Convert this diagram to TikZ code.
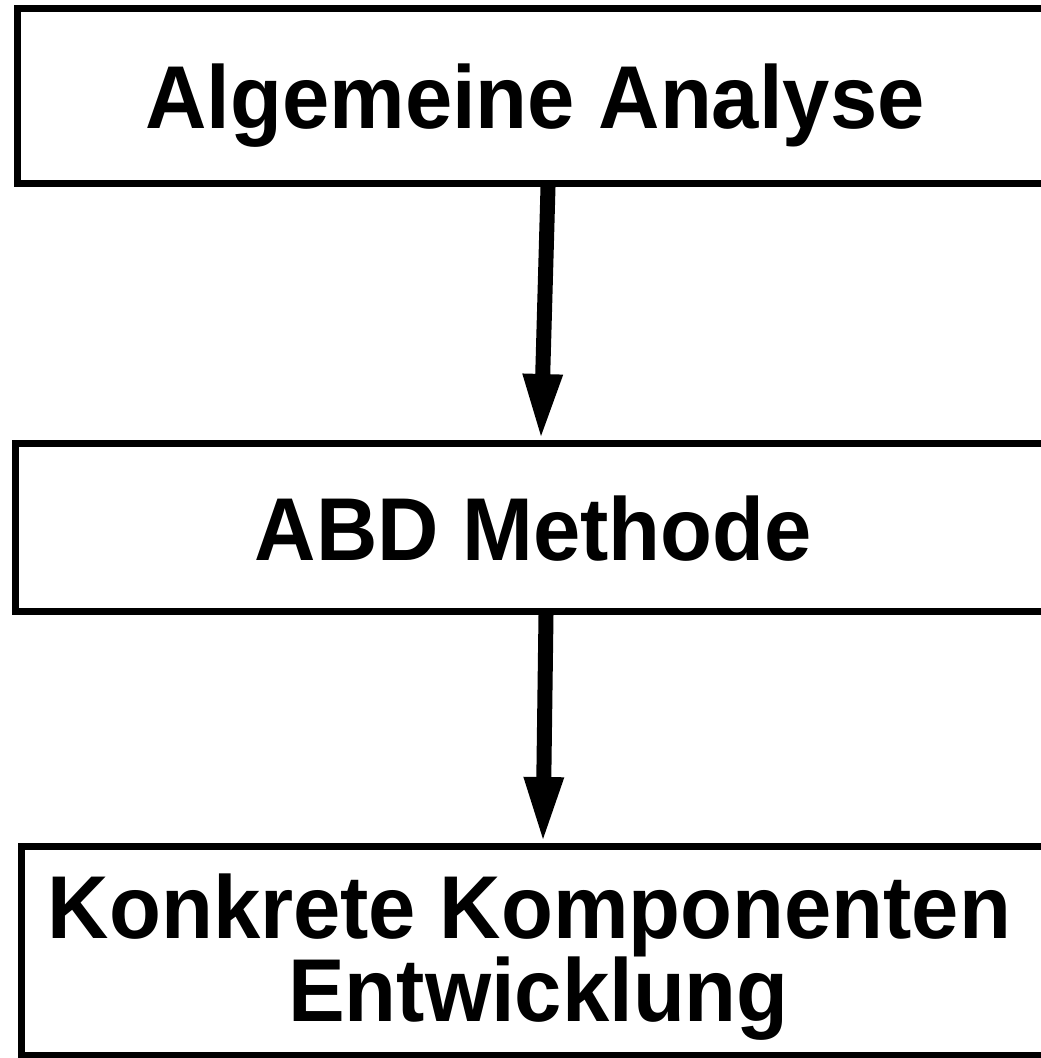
\documentclass[tikz,border=0pt]{standalone}
\usepackage{graphicx}
\usepackage{fontspec}
\setmainfont{Liberation Sans}
\usetikzlibrary{arrows.meta,calc}

% slightly tall bold lettering
\newcommand{\stagelabel}[1]{\scalebox{1}[1.05]{#1}}

\tikzset{
  stagebox/.style={draw=black, line width=7pt, fill=white, inner sep=0pt, rectangle},
  stagetext/.style={anchor=base, inner sep=0pt, font=\fontsize{85}{97}\selectfont\bfseries},
  flowarrow/.style={line width=15pt, -{Triangle[width=41pt,length=62pt,line width=0pt]}}
}

\begin{document}
\begin{tikzpicture}[x=1pt, y=-1pt]
  \useasboundingbox (0,0) rectangle (1041,1058);
  \clip (0,0) rectangle (1041,1058);

  % stage boxes (right edges run past the page)
  \node[stagebox, minimum width=1042.5pt, minimum height=175.5pt] (b1) at (538.75,95.75) {};
  \node[stagebox, minimum width=1045pt, minimum height=168pt] (b2) at (537.5,527.5) {};
  \node[stagebox, minimum width=1038.5pt, minimum height=208.5pt] (b3) at (540.75,950.75) {};

  % labels
  \node[stagetext] (t1) at (535,128) {\stagelabel{Algemeine Analyse}};
  \node[stagetext] (t2) at (533.5,560) {\stagelabel{ABD Methode}};
  \node[stagetext] (t3a) at (529.5,938) {\stagelabel{Konkrete Komponenten}};
  \node[stagetext] (t3b) at (538.5,1021) {\stagelabel{Entwicklung}};

  % connectors
  \draw[flowarrow] ($(b1.south)+(9.25,0)$) -- ($(b2.north)+(3.5,-4)$);
  \draw[flowarrow] ($(b2.south)+(8.5,0)$) -- ($(b3.north)+(2.25,-4)$);
\end{tikzpicture}
\end{document}
